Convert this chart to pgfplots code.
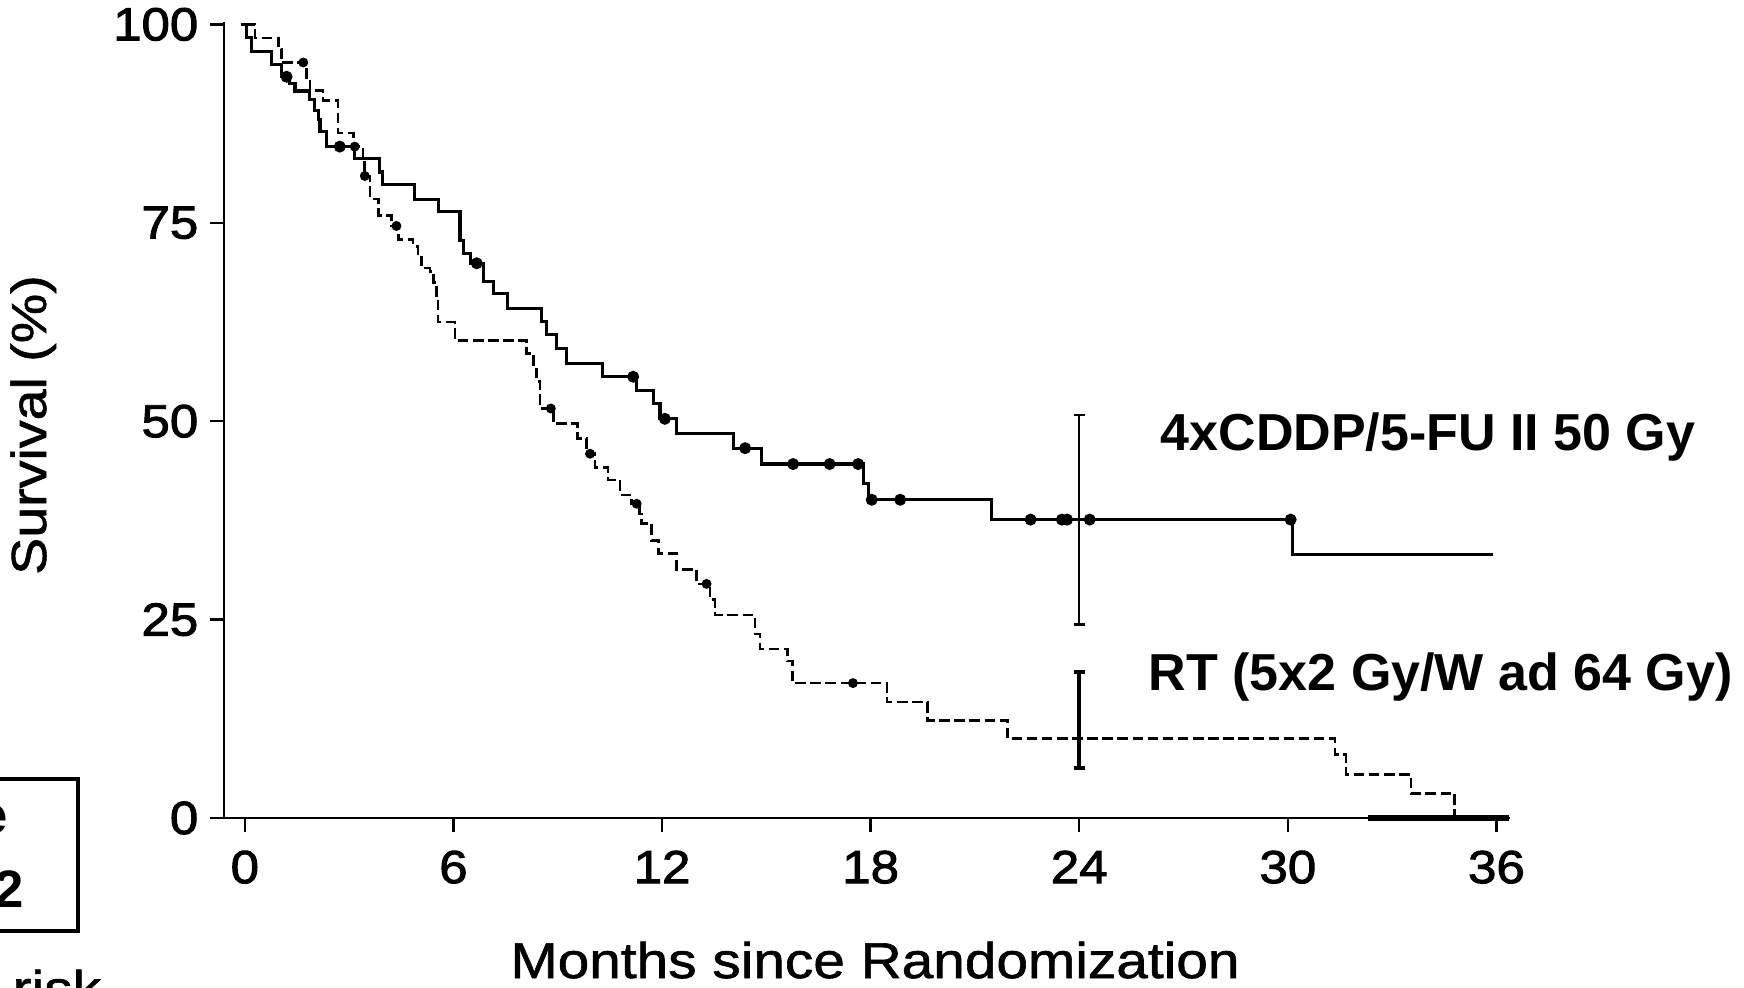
\documentclass[border=0pt]{standalone}
\usepackage{fontspec}
\setmainfont{Liberation Sans}
\newfontfamily\regfont[FakeStretch=1.13, FakeBold=1.2]{Liberation Sans}
\newfontfamily\tickfont[FakeStretch=1.1, FakeBold=2]{Liberation Sans}
\usepackage{pgfplots}
\pgfplotsset{compat=1.18}
\begin{document}
\begin{tikzpicture}
\path[use as bounding box] (0,0) rectangle (17.44cm,-9.87cm);
\clip (0,0) rectangle (17.44cm,-9.87cm);
\begin{axis}[
  at={(2.24cm,-8.18cm)}, anchor=south west,
  scale only axis, width=12.86cm, height=7.96cm,
  xmin=-0.6, xmax=36.39, ymin=0, ymax=100.3,
  axis x line*=bottom, axis y line*=left,
  axis line style={line width=0.7pt},
  xtick={0,6,12,18,24,30,36}, ytick={0,25,50,75,100},
  tick align=outside, major tick length=1.4mm,
  tick style={line width=0.7pt, black},
  /pgf/number format/assume math mode=true,
  ticklabel style={font=\tickfont\fontsize{13.2}{15}\selectfont},
  yticklabel style={anchor=east, inner sep=0pt, xshift=-1.1mm},
  xticklabel style={anchor=north, inner sep=0pt, yshift=-1.8mm},
  clip=false,
]
% 4xCDDP/5-FU + 50 Gy (solid)
\addplot[const plot, line width=0.9pt] coordinates {
(-0.1,100) (0.05,98.3) (0.19,96.6) (0.77,94.9) (1.05,93.4) (1.29,92.6) (1.44,91.6)
(1.87,90.5) (2.01,89.2) (2.11,88.0) (2.16,86.5) (2.35,84.6) (3.16,83.1) (3.88,81.4)
(3.95,79.8) (4.89,77.9) (5.56,76.4) (6.19,72.8) (6.3,71.1) (6.49,69.9) (6.87,67.6)
(7.15,66.1) (7.55,64.2) (8.54,62.6) (8.68,60.9) (8.96,59.2) (9.25,57.3) (10.28,55.6)
(11.27,53.9) (11.75,52.2) (11.94,50.3) (12.42,48.4) (14.05,46.6) (14.86,44.6)
(17.79,42.1) (17.93,40.1) (21.48,37.6) (30.14,33.2) (35.9,33.2)
};
% RT (dashed)
\addplot[const plot, line width=0.75pt, dash pattern=on 3pt off 1.3pt] coordinates {
(0,100) (0.29,98.3) (0.96,96.9) (1.06,95.2) (1.78,93.3) (1.87,91.7) (2.25,90.4)
(2.68,86.3) (3.12,84.6) (3.4,82.9) (3.45,80.9) (3.6,78.0) (3.84,75.9) (4.22,74.6)
(4.41,72.9) (4.84,72.0) (4.98,70.9) (5.08,69.3) (5.32,68.9) (5.42,67.5) (5.51,65.6)
(5.56,62.5) (6.04,60.2) (8.1,58.5) (8.3,56.6) (8.39,55.0) (8.49,51.6) (8.87,49.7)
(9.57,47.8) (9.83,45.9) (10.07,44.2) (10.45,42.6) (10.79,40.7) (11.13,39.6)
(11.36,38.3) (11.41,37.1) (11.70,35.0) (11.89,33.3) (12.42,31.3) (12.99,29.5)
(13.38,27.5) (13.52,25.6) (14.67,23.2) (14.82,21.3) (15.6,19.8) (15.75,17.0)
(18.47,14.6) (19.63,12.3) (21.94,10.0) (31.36,8.0) (31.67,5.5) (33.54,3.1) (34.8,0)
};
% censored observations
\addplot[only marks, mark=*, mark size=1.5pt] coordinates {
(1.2,93.4) (2.73,84.6) (6.67,69.9) (11.17,55.6) (12.08,50.3) (14.39,46.6)
(15.77,44.6) (16.82,44.6) (17.64,44.6) (18.03,40.1) (18.85,40.1)
(22.6,37.6) (23.5,37.6) (23.65,37.6) (24.3,37.6) (30.08,37.6)
};
\addplot[only marks, mark=*, mark size=1.2pt] coordinates {
(1.68,95.2) (3.16,84.6) (3.45,80.9) (4.36,74.6) (8.8,51.6) (9.93,45.9)
(11.27,39.6) (13.28,29.5) (17.49,17.0)
};
% confidence bars at 24 months
\addplot[line width=0.7pt] coordinates {(24,24.4) (24,50.8)};
\addplot[line width=0.7pt] coordinates {(23.84,50.8) (24.16,50.8)};
\addplot[line width=0.7pt] coordinates {(23.84,24.4) (24.16,24.4)};
\addplot[line width=1.1pt] coordinates {(24,6.3) (24,18.4)};
\addplot[line width=1.1pt] coordinates {(23.84,18.4) (24.16,18.4)};
\addplot[line width=1.1pt] coordinates {(23.84,6.3) (24.16,6.3)};
% thickened baseline
\addplot[line width=1.5pt] coordinates {(32.3,0) (36.35,0)};
\node[anchor=base west, inner sep=0pt, font=\bfseries\fontsize{14.8}{17}\selectfont]
  at (axis cs:26.32,46.3) {4xCDDP/5-FU II 50 Gy};
\node[anchor=base west, inner sep=0pt, font=\bfseries\fontsize{14.8}{17}\selectfont]
  at (axis cs:25.98,16.1) {RT (5x2 Gy/W ad 64 Gy)};
\end{axis}
\node[anchor=base, inner sep=0pt, font=\regfont\fontsize{14.3}{17}\selectfont]
  at (8.75cm,-9.78cm) {Months since Randomization};
\node[anchor=base, rotate=90, inner sep=0pt, font=\regfont\fontsize{14}{17}\selectfont]
  at (0.46cm,-4.25cm) {Survival (\%)};
\draw[line width=1.1pt] (-1cm,-7.79cm) rectangle (0.78cm,-9.31cm);
\node[anchor=base east, inner sep=0pt, font=\bfseries\fontsize{15}{17}\selectfont]
  at (0.09cm,-8.33cm) {e};
\node[anchor=base east, inner sep=0pt, font=\bfseries\fontsize{15}{17}\selectfont]
  at (0.245cm,-9.07cm) {2};
\node[anchor=base west, inner sep=0pt, font=\regfont\fontsize{14.3}{17}\selectfont]
  at (0.12cm,-10.06cm) {risk};
\end{tikzpicture}
\end{document}
